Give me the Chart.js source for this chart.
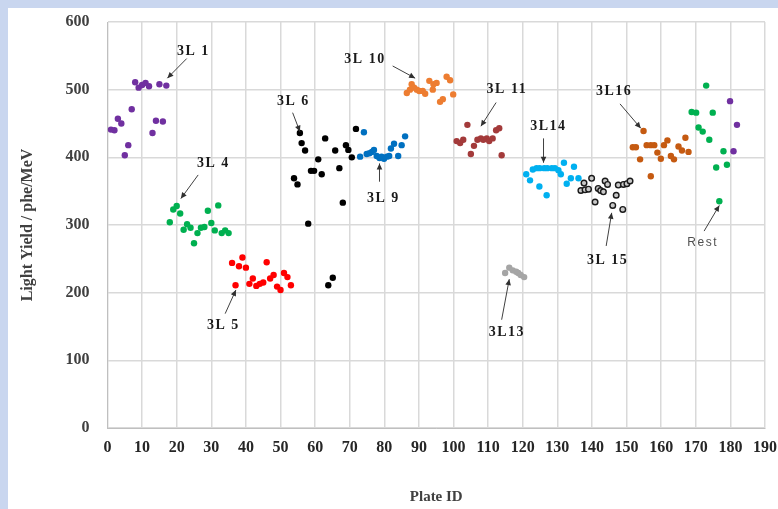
<!DOCTYPE html>
<html><head><meta charset="utf-8">
<script src="https://cdn.jsdelivr.net/npm/chart.js@4.4.1/dist/chart.umd.min.js"></script>
<style>
html,body{margin:0;padding:0;}
body{width:778px;height:509px;background:#c9d6ef;position:relative;overflow:hidden;}
#panel{position:absolute;left:8px;top:8px;width:770px;height:501px;background:#fff;}
canvas{display:block;}
</style></head><body>
<div id="panel"><canvas id="c" width="770" height="501"></canvas></div>
<script>
// ---- data (Plate ID, Light Yield phe/MeV) ----
const plate3L1 = [1,2,3,4,5,6,7,8,9,10,11,12,13,14,15,16,17];
const yield3L1 = [441,440,457,450,403,418,471,511,503,507,510,505,436,454,508,453,506];

const plate3L4 = [18,19,20,21,22,23,24,25,26,27,28,29,30,31,32,33,34,35];
const yield3L4 = [304,323,328,317,293,301,296,273,288,296,297,321,303,292,329,288,292,288];

const plate3L5 = [36,37,38,39,40,41,42,43,44,45,46,47,48,49,50,51,52,53];
const yield3L5 = [244,211,239,252,237,213,221,210,213,215,245,221,226,209,204,229,223,211];

const plate3L6 = [53.9,54.9,55.6,56.1,57.1,58,58.8,59.7,60.9,61.9,62.9,63.8,65.1,65.8,67,68,68.9,69.6,70.6,71.8];
const yield3L6 = [369,360,436,421,410,302,380,380,397,375,428,211,222,410,384,333,418,411,400,442];

const plate3L9 = [73,74.1,74.9,75.7,76.4,77,77.8,78.6,79.2,79.9,80.7,81.4,81.9,82.8,84,85,86];
const yield3L9 = [401,437,405,406,408,411,402,399,401,398,401,402,413,420,402,418,431];

const plate3L10 = [86.5,87.4,87.9,88.6,89.4,90.1,91.1,91.8,93,94,94.2,95.1,96.1,96.9,98,99,99.9];
const yield3L10 = [495,500,508,503,500,498,498,494,513,500,508,510,482,486,519,514,493];

const plate3L11 = [100.9,101.9,102.8,104,105,105.9,106.9,107.9,108.6,109.6,110.3,111.3,112.3,113.2,113.9];
const yield3L11 = [424,421,426,448,405,417,426,428,426,428,424,428,440,443,403];

const plate3L13 = [114.9,116.1,117.1,118.1,118.7,119.4,120.4];
const yield3L13 = [229,237,233,231,229,226,223];

const plate3L14 = [121,122.1,122.9,124,124.8,124.9,126.2,126.9,127.1,128.4,129.3,130.3,131,131.9,132.7,133.9,134.8,136.1];
const yield3L14 = [375,366,382,384,357,384,384,344,384,384,384,381,375,392,361,369,386,369];

const plate3L15 = [136.8,137.7,138,139,139.9,140.9,141.8,142.5,143.3,143.8,144.5,146,147,147.6,148.9,149.1,150.1,151];
const yield3L15 = [351,362,352,353,369,334,354,351,349,365,360,329,344,359,323,360,361,365];

const plate3L16 = [151.8,152.7,153.9,154.9,155.8,157,157,158,158.9,159.9,160.8,161.8,162.8,163.7,165,166,167,167.9];
const yield3L16 = [415,415,397,439,418,418,372,418,407,398,418,425,402,397,416,410,429,408];

const plateRestA = [168.8,170.1,170.8,172,173,173.9,174.9,175.9,176.8,178,179];
const yieldRestA = [467,466,444,438,506,426,466,385,335,409,389];

const plateRestB = [179.9,180.9,181.9];
const yieldRestB = [483,409,448];

// axis ticks
const xTickStep = 10, xMin = 0, xMax = 190;
const yTickStep = 100, yMin = 0, yMax = 600;

// callout labels: text, label position, arrow from -> to (data coords)
const callouts = [
  {text:'3L 1',  at:[24.8,556], from:[22.9,546], to:[17.3,517]},
  {text:'3L 4',  at:[30.6,391], from:[26.2,374], to:[21.2,339]},
  {text:'3L 5',  at:[33.5,152], from:[34.0,169], to:[37.1,204]},
  {text:'3L 6',  at:[53.7,483], from:[53.5,466], to:[55.6,438]},
  {text:'3L 9',  at:[79.7,339], from:[78.6,364], to:[78.6,391]},
  {text:'3L 10', at:[74.4,545], from:[82.4,535], to:[88.9,517]},
  {text:'3L 11', at:[115.4,500], from:[112.3,481], to:[107.9,446]},
  {text:'3L14',  at:[127.4,445], from:[126,428], to:[126,392]},
  {text:'3L16',  at:[146.4,497], from:[148.1,479], to:[154.1,443]},
  {text:'3L13',  at:[115.4,141], from:[113.9,160], to:[116.1,220]},
  {text:'3L 15', at:[144.5,248], from:[144.1,269], to:[145.7,318]},
  {text:'Rest',  at:[172,274], from:[172.4,291], to:[176.8,329], sans:true}
];

function pts(xs, ys){ return xs.map((v,i)=>({x:v, y:ys[i]})); }
function ds(xs, ys, fill, border, bw, r){
  return {data:pts(xs,ys), backgroundColor:fill, borderColor:border||fill, borderWidth:bw||0, pointRadius:r||3.2, pointHoverRadius:r||3.2};
}

const calloutPlugin = {
  id:'callouts',
  afterDatasetsDraw(chart){
    const {ctx, scales:{x, y}} = chart;
    ctx.save();
    callouts.forEach(c=>{
      const x1 = x.getPixelForValue(c.from[0]), y1 = y.getPixelForValue(c.from[1]);
      const x2 = x.getPixelForValue(c.to[0]),   y2 = y.getPixelForValue(c.to[1]);
      ctx.strokeStyle = '#404040'; ctx.fillStyle = '#303030'; ctx.lineWidth = 1;
      ctx.beginPath(); ctx.moveTo(x1,y1); ctx.lineTo(x2,y2); ctx.stroke();
      const a = Math.atan2(y2-y1, x2-x1), L = 6, W = 2.8;
      const bx = x2 - L*Math.cos(a), by = y2 - L*Math.sin(a);
      ctx.beginPath();
      ctx.moveTo(x2,y2);
      ctx.lineTo(bx + W*Math.sin(a), by - W*Math.cos(a));
      ctx.lineTo(bx - W*Math.sin(a), by + W*Math.cos(a));
      ctx.closePath(); ctx.fill();
      const tx = x.getPixelForValue(c.at[0]), ty = y.getPixelForValue(c.at[1]);
      ctx.textAlign = 'center'; ctx.textBaseline = 'middle';
      if (c.sans){
        ctx.font = '12px "Liberation Sans", Arial, sans-serif';
        ctx.letterSpacing = '1.5px';
        ctx.fillStyle = '#505050';
      } else {
        ctx.font = 'bold 14px "Liberation Serif", "Times New Roman", serif';
        ctx.letterSpacing = '1.5px';
        ctx.fillStyle = '#1a1a1a';
      }
      ctx.fillText(c.text, tx, ty);
      ctx.letterSpacing = '0px';
    });
    ctx.restore();
  }
};

const serifBold = (size)=>({family:'"Liberation Serif", "Times New Roman", serif', weight:'bold', size});

new Chart(document.getElementById('c'), {
  type:'scatter',
  data:{datasets:[
    ds(plate3L1, yield3L1, '#7030A0'),
    ds(plate3L4, yield3L4, '#00B050'),
    ds(plate3L5, yield3L5, '#FF0000'),
    ds(plate3L6, yield3L6, '#000000'),
    ds(plate3L9, yield3L9, '#0070C0'),
    ds(plate3L10, yield3L10, '#ED7D31'),
    ds(plate3L11, yield3L11, '#A33A3A'),
    ds(plate3L13, yield3L13, '#A5A5A5'),
    ds(plate3L14, yield3L14, '#00B0F0'),
    ds(plate3L15, yield3L15, '#c8c8c8', '#1a1a1a', 1.4, 2.8),
    ds(plate3L16, yield3L16, '#C55A11'),
    ds(plateRestA, yieldRestA, '#00B050'),
    ds(plateRestB, yieldRestB, '#7030A0')
  ]},
  options:{
    responsive:false, animation:false, devicePixelRatio:1,
    layout:{padding:{top:14, right:13, left:0, bottom:0}},
    plugins:{legend:{display:false}, tooltip:{enabled:false}},
    scales:{
      x:{type:'linear', min:xMin, max:xMax,
        ticks:{stepSize:xTickStep, padding:0, autoSkip:false, maxRotation:0, minRotation:0, color:'#262626', font:serifBold(16)},
        grid:{color:'#d9d9d9', lineWidth:1.5, drawTicks:true, tickLength:10, tickColor:'rgba(0,0,0,0)'},
        border:{color:'#bfbfbf', width:1},
        title:{display:true, text:'Plate ID', color:'#404040', font:serifBold(15), padding:{top:0, bottom:3}},
        afterFit(s){ s.height = 81; s.paddingRight = 8; s.paddingLeft = 8; }
      },
      y:{type:'linear', min:yMin, max:yMax,
        ticks:{stepSize:yTickStep, padding:0, color:'#404040', font:serifBold(16)},
        grid:{color:'#d9d9d9', lineWidth:1.5, drawTicks:true, tickLength:18, tickColor:'rgba(0,0,0,0)'},
        border:{color:'#bfbfbf', width:1},
        title:{display:true, text:'Light Yield / phe/MeV', color:'#404040', font:serifBold(16), padding:{top:10.4, bottom:0}},
        afterFit(s){ s.width = 99.5; s.paddingTop = 8; s.paddingBottom = 8; }
      }
    }
  },
  plugins:[calloutPlugin]
});
</script>
</body></html>
